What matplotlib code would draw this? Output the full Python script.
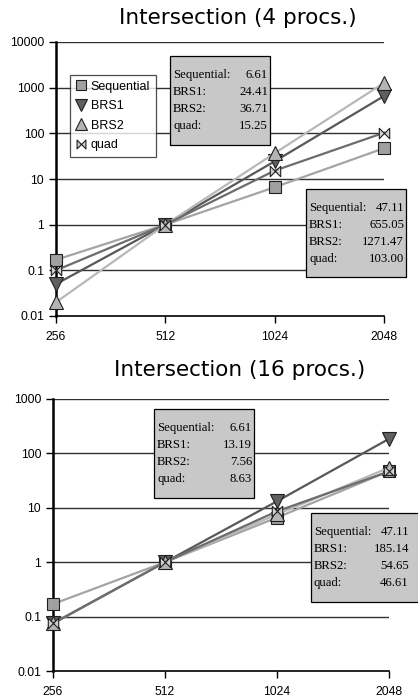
import matplotlib
matplotlib.use("Agg")
import matplotlib.pyplot as plt
from matplotlib.path import Path
from matplotlib.lines import Line2D
from matplotlib.patches import Rectangle

sizes = ["256", "512", "1024", "2048"]
series = ["Sequential", "BRS1", "BRS2", "quad"]

# 4 procs.
seq_4 = [0.17, 1.0, 6.61, 47.11]
brs1_4 = [0.05, 1.0, 24.41, 655.05]
brs2_4 = [0.02, 1.0, 36.71, 1271.47]
quad_4 = [0.10, 1.0, 15.25, 103.00]

# 16 procs.
seq_16 = [0.17, 1.0, 6.61, 47.11]
brs1_16 = [0.075, 1.0, 13.19, 185.14]
brs2_16 = [0.075, 1.0, 7.56, 54.65]
quad_16 = [0.075, 1.0, 8.63, 46.61]

W, H = 418, 700

bowtie = Path([(-1, -1), (1, 1), (1, -1), (-1, 1), (-1, -1)],
              [Path.MOVETO, Path.LINETO, Path.LINETO, Path.LINETO, Path.CLOSEPOLY])

styles = {
    "Sequential": dict(color="#a4a4a4", marker="s", mfc="#a0a0a0", ms=9),
    "BRS1": dict(color="#585858", marker="v", mfc="#606060", ms=9.5),
    "BRS2": dict(color="#b8b8b8", marker="^", mfc="#b4b4b4", ms=9.5),
    "quad": dict(color="#6c6c6c", marker=bowtie, mfc="#d0d0d0", ms=7.5),
}

plt.rcParams['font.family'] = ['Liberation Sans', 'DejaVu Sans']

fig = plt.figure(figsize=(W / 100, H / 100), dpi=100)


def fx(px):
    return px / W


def fy(py):
    return 1 - py / H


def draw_chart(rect, title, title_xy, data, ymax, boxes, legend=False):
    ax = fig.add_axes(rect)
    x = range(len(sizes))
    for name, vals in zip(series, data):
        st = styles[name]
        ax.plot(x, vals, color=st["color"], lw=1.6, marker=st["marker"],
                ms=st["ms"], mfc=st["mfc"], mec="#202020", mew=0.8,
                clip_on=False, zorder=3)
    ax.set_yscale("log")
    ax.set_ylim(0.01, ymax)
    ax.set_xlim(0, 3)
    ax.set_xticks(list(x))
    ax.set_xticklabels(sizes)
    ticks = [10.0 ** k for k in range(-2, len(str(int(ymax))))]
    ax.set_yticks(ticks)
    ax.set_yticklabels(["%g" % t for t in ticks])
    ax.minorticks_off()
    for t in ticks[1:]:
        ax.axhline(t, color="#303030", lw=1.0, zorder=1)
    for s in ["top", "right"]:
        ax.spines[s].set_visible(False)
    ax.spines["left"].set_linewidth(1.8)
    ax.spines["bottom"].set_linewidth(1.2)
    ax.tick_params(axis="both", labelsize=8.7, direction="out", length=5,
                   width=1, colors="black")
    ax.tick_params(axis="x", pad=6)
    fig.text(fx(title_xy[0]), fy(title_xy[1]), title, fontsize=15.5,
             family="DejaVu Sans", ha="center", va="center")

    for (x0, y0, x1, y1), vals in boxes:
        fig.add_artist(Rectangle((fx(x0), fy(y1)), fx(x1) - fx(x0),
                                 fy(y0) - fy(y1), transform=fig.transFigure,
                                 facecolor="#c8c8c8", edgecolor="black",
                                 lw=0.9, zorder=5))
        for i, (name, v) in enumerate(zip(series, vals)):
            ty = y0 + 19 + i * 17
            fig.text(fx(x0 + 3), fy(ty), name + ":", fontsize=9.2,
                     family="Liberation Serif", va="center", ha="left", zorder=6)
            fig.text(fx(x0 + 98), fy(ty), "%.2f" % v, fontsize=9.2,
                     family="Liberation Serif", va="center", ha="right", zorder=6)

    if legend:
        handles = [Line2D([], [], ls="none", marker=styles[n]["marker"],
                          ms=styles[n]["ms"] * 0.85, mfc=styles[n]["mfc"],
                          mec="#202020", mew=0.8) for n in series]
        leg = ax.legend(handles, series, loc="upper left",
                        bbox_to_anchor=(fx(70), fy(75)),
                        bbox_transform=fig.transFigure, borderaxespad=0,
                        fancybox=False, frameon=True, fontsize=9,
                        handlelength=0.8, handletextpad=0.4,
                        labelspacing=0.6, borderpad=0.45)
        leg.get_frame().set_edgecolor("#202020")
        leg.get_frame().set_linewidth(0.9)
        leg.set_zorder(7)
    return ax


draw_chart([fx(56), fy(316), fx(384) - fx(56), fy(42) - fy(316)],
           "Intersection (4 procs.)", (238, 18),
           [seq_4, brs1_4, brs2_4, quad_4], 10000,
           [((170, 56, 270, 145), [seq_4[2], brs1_4[2], brs2_4[2], quad_4[2]]),
            ((306, 189, 406, 277), [seq_4[3], brs1_4[3], brs2_4[3], quad_4[3]])],
           legend=True)

draw_chart([fx(53), fy(671), fx(389) - fx(53), fy(399) - fy(671)],
           "Intersection (16 procs.)", (240, 370),
           [seq_16, brs1_16, brs2_16, quad_16], 1000,
           [((154, 409, 254, 498), [seq_16[2], brs1_16[2], brs2_16[2], quad_16[2]]),
            ((311, 513, 420, 602), [seq_16[3], brs1_16[3], brs2_16[3], quad_16[3]])])

fig.savefig("out.png", dpi=100)
